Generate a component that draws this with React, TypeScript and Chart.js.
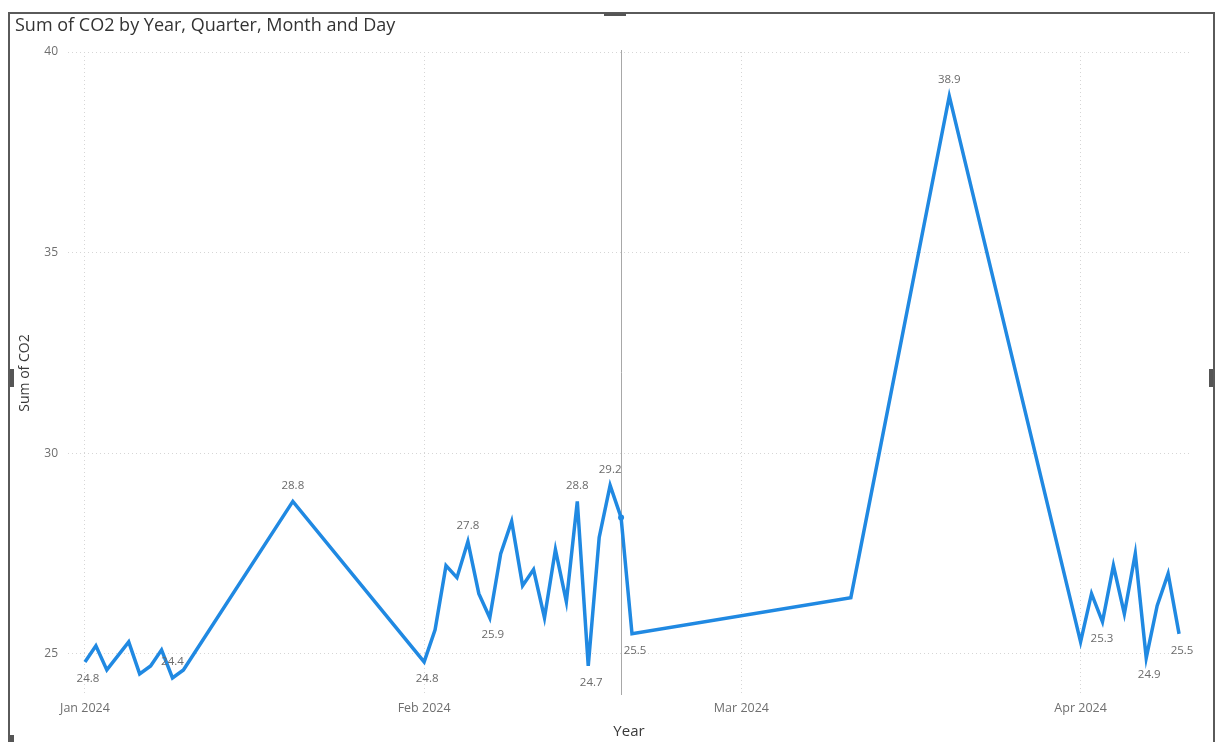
import React, { useEffect, useRef } from 'react';
import { Chart, registerables } from 'chart.js';

Chart.register(...registerables);

// Daily CO2 readings
const readingDates = [
  '2024-01-01', '2024-01-02', '2024-01-03', '2024-01-05', '2024-01-06',
  '2024-01-07', '2024-01-08', '2024-01-09', '2024-01-10', '2024-01-20',
  '2024-02-01', '2024-02-02', '2024-02-03', '2024-02-04', '2024-02-05',
  '2024-02-06', '2024-02-07', '2024-02-08', '2024-02-09', '2024-02-10',
  '2024-02-11', '2024-02-12', '2024-02-13', '2024-02-14', '2024-02-15',
  '2024-02-16', '2024-02-17', '2024-02-18', '2024-02-19', '2024-02-20',
  '2024-03-11', '2024-03-20', '2024-04-01', '2024-04-02', '2024-04-03',
  '2024-04-04', '2024-04-05', '2024-04-06', '2024-04-07', '2024-04-08',
  '2024-04-09', '2024-04-10',
];
const co2Values = [
  24.8, 25.2, 24.6, 25.3, 24.5,
  24.7, 25.1, 24.4, 24.6, 28.8,
  24.8, 25.6, 27.2, 26.9, 27.8,
  26.5, 25.9, 27.5, 28.3, 26.7,
  27.1, 25.9, 27.6, 26.3, 28.8,
  24.7, 27.9, 29.2, 28.4, 25.5,
  26.4, 38.9, 25.3, 26.5, 25.8,
  27.2, 26.0, 27.5, 24.9, 26.2,
  27.0, 25.5,
];

// Axis ticks
const monthTickDates = ['2024-01-01', '2024-02-01', '2024-03-01', '2024-04-01'];
const monthTickLabels = ['Jan 2024', 'Feb 2024', 'Mar 2024', 'Apr 2024'];
const yTickValues = [25, 30, 35, 40];

// Points that carry a data label, and which side the label sits on
const labeledDates = [
  '2024-01-01', '2024-01-09', '2024-01-20', '2024-02-01', '2024-02-05',
  '2024-02-07', '2024-02-15', '2024-02-16', '2024-02-18', '2024-02-20',
  '2024-03-20', '2024-04-01', '2024-04-07', '2024-04-10',
];
const labelSides = [
  'below', 'above', 'above', 'below', 'above',
  'below', 'above', 'below', 'above', 'below',
  'above', 'right', 'below', 'below',
];

// Highlighted (hovered) day
const focusDate = '2024-02-19';

const ORIGIN = Date.parse('2024-01-01T00:00:00Z');
const dayIndex = (iso: string) => Math.round((Date.parse(iso + 'T00:00:00Z') - ORIGIN) / 86400000);

const FONT = '"Open Sans", "DejaVu Sans", sans-serif';
const LINE_COLOR = '#2089e2';
const GRID_COLOR = '#d6d6d6';

const dataLabelPlugin = {
  id: 'dataLabels',
  afterDatasetsDraw(chart: any) {
    const meta = chart.getDatasetMeta(0);
    const ctx = chart.ctx;
    ctx.save();
    ctx.font = '11.5px ' + FONT;
    ctx.fillStyle = '#6b6b6b';
    labeledDates.forEach((d, k) => {
      const i = readingDates.indexOf(d);
      if (i < 0) return;
      const pt = meta.data[i];
      const text = co2Values[i].toFixed(1);
      const side = labelSides[k];
      ctx.textBaseline = 'middle';
      if (side === 'right') {
        ctx.textAlign = 'left';
        ctx.fillText(text, pt.x + 10, pt.y - 3);
      } else {
        ctx.textAlign = 'center';
        const dy = side === 'above' ? -16 : 17;
        ctx.fillText(text, pt.x + (side === 'below' ? 3 : 0), pt.y + dy);
      }
    });
    ctx.restore();
  },
};

const focusLinePlugin = {
  id: 'focusLine',
  beforeDatasetsDraw(chart: any) {
    const { ctx, chartArea, scales } = chart;
    const x = Math.round(scales.x.getPixelForValue(dayIndex(focusDate))) + 0.5;
    ctx.save();
    ctx.strokeStyle = '#a8a8a8';
    ctx.lineWidth = 1;
    ctx.beginPath();
    ctx.moveTo(x, chartArea.top - 2);
    ctx.lineTo(x, chartArea.bottom + 1);
    ctx.stroke();
    ctx.restore();
  },
};

function CO2Chart() {
  const canvasRef = useRef<HTMLCanvasElement | null>(null);

  useEffect(() => {
    if (!canvasRef.current) return;
    const focusIdx = readingDates.indexOf(focusDate);
    const chart = new Chart(canvasRef.current, {
      type: 'line',
      data: {
        datasets: [
          {
            label: 'Sum of CO2',
            data: readingDates.map((d, i) => ({ x: dayIndex(d), y: co2Values[i] })),
            borderColor: LINE_COLOR,
            backgroundColor: LINE_COLOR,
            borderWidth: 3.5,
            borderJoinStyle: 'miter',
            tension: 0,
            pointRadius: readingDates.map((_, i) => (i === focusIdx ? 3 : 0)),
            pointBorderWidth: 0,
          },
        ],
      },
      options: {
        animation: false,
        responsive: false,
        maintainAspectRatio: false,
        layout: { padding: { top: 52, right: 28, left: 0, bottom: 0 } },
        plugins: {
          legend: { display: false },
          tooltip: { enabled: false },
        },
        scales: {
          x: {
            type: 'linear',
            min: -1.55,
            max: 101,
            afterBuildTicks: (scale: any) => {
              scale.ticks = monthTickDates.map((d) => ({ value: dayIndex(d) }));
            },
            afterFit: (scale: any) => {
              scale.height = 48;
            },
            ticks: {
              autoSkip: false,
              maxRotation: 0,
              padding: 7,
              color: '#6f6f6f',
              font: { size: 12.5, family: FONT },
              callback: (v: any) => {
                const k = monthTickDates.findIndex((d) => dayIndex(d) === v);
                return k >= 0 ? monthTickLabels[k] : '';
              },
            },
            grid: { color: GRID_COLOR, drawTicks: false, lineWidth: 1 },
            border: { display: false, dash: [1, 3] },
            title: {
              display: true,
              text: 'Year',
              color: '#3a3a3a',
              font: { size: 15, family: FONT },
              padding: { top: 0, bottom: 1 },
            },
          },
          y: {
            type: 'linear',
            min: 24,
            max: 40,
            afterBuildTicks: (scale: any) => {
              scale.ticks = yTickValues.map((v) => ({ value: v }));
            },
            afterFit: (scale: any) => {
              scale.width = 68;
            },
            ticks: {
              padding: 10,
              color: '#6f6f6f',
              font: { size: 12, family: FONT },
            },
            grid: { color: GRID_COLOR, drawTicks: false, lineWidth: 1 },
            border: { display: false, dash: [1, 3] },
            title: {
              display: true,
              text: 'Sum of CO2',
              color: '#3a3a3a',
              font: { size: 14, family: FONT },
              padding: { top: 17, bottom: 0 },
            },
          },
        },
      },
      plugins: [focusLinePlugin, dataLabelPlugin],
    } as any);
    return () => chart.destroy();
  }, []);

  return <canvas ref={canvasRef} width={1218} height={742} style={{ display: 'block' }} />;
}

export default function App() {
  const handle = { position: 'absolute' as const, background: '#555' };
  return (
    <div
      style={{
        position: 'fixed',
        left: 0,
        top: 0,
        width: 1218,
        height: 742,
        background: '#fff',
        overflow: 'hidden',
      }}
    >
      <CO2Chart />
      <div
        style={{
          position: 'absolute',
          left: 8,
          top: 12,
          width: 1203,
          height: 760,
          borderTop: '2px solid #5a5a5a',
          borderLeft: '2px solid #5a5a5a',
          borderRight: '2px solid #5a5a5a',
          pointerEvents: 'none',
        }}
      />
      <div style={{ ...handle, left: 604, top: 13, width: 22, height: 3 }} />
      <div style={{ ...handle, left: 10, top: 369, width: 4, height: 18 }} />
      <div style={{ ...handle, left: 1209, top: 369, width: 4, height: 18 }} />
      <div style={{ ...handle, left: 10, top: 735, width: 4, height: 7 }} />
      <div
        style={{
          position: 'absolute',
          left: 15,
          top: 13,
          fontFamily: FONT,
          fontSize: 18,
          color: '#333',
          whiteSpace: 'nowrap',
          lineHeight: '22px',
        }}
      >
        Sum of CO2 by Year, Quarter, Month and Day
      </div>
    </div>
  );
}
